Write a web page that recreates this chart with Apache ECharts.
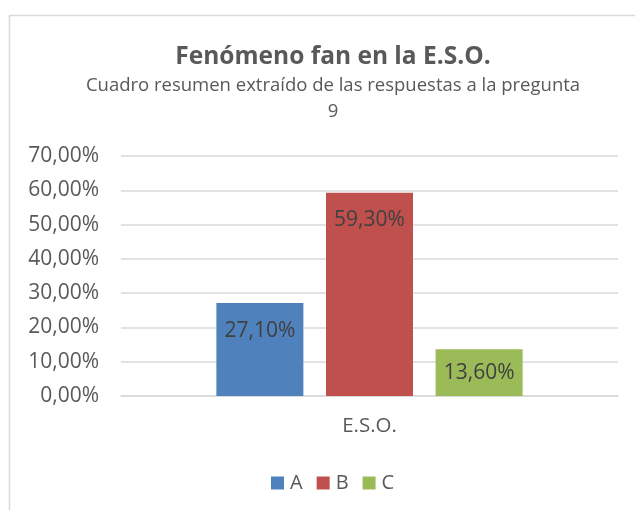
<html lang="es">
<head>
  <meta charset="UTF-8">
  <title>Fenómeno fan en la E.S.O.</title>
  <script src="https://cdn.jsdelivr.net/npm/echarts@6/dist/echarts.min.js"></script>
  <style>
    body { margin: 0; padding: 0; background: #fff; }
    #chart { width: 635px; height: 510px; }
  </style>
</head>
<body>
  <div id="chart"></div>
  <script>
    const categories = ['E.S.O.'];
    const seriesNames = ['A', 'B', 'C'];
    const seriesValues = [[27.1], [59.3], [13.6]];
    const seriesColors = ['#4f81bd', '#c0504d', '#9bbb59'];

    // Spanish style percent: 27,10%
    function pct(v) {
      return v.toFixed(2).replace('.', ',') + '%';
    }

    let myChart = echarts.init(document.getElementById('chart'));

    let option = {
      textStyle: { fontFamily: "'Open Sans', sans-serif" },
      graphic: [
        {
          type: 'rect',
          shape: { x: 9.5, y: 15.5, width: 700, height: 600 },
          style: { fill: 'none', stroke: '#d9d9d9', lineWidth: 1.5 },
          silent: true
        }
      ],
      title: {
        text: 'Fenómeno fan en la E.S.O.',
        subtext: 'Cuadro resumen extraído de las respuestas a la pregunta\n9',
        left: 328,
        textAlign: 'center',
        top: 40,
        itemGap: 3,
        textStyle: {
          fontSize: 24.5,
          fontWeight: 'bold',
          color: '#595959'
        },
        subtextStyle: {
          fontSize: 18.5,
          lineHeight: 26,
          color: '#595959'
        }
      },
      legend: {
        bottom: 12,
        left: 266,
        icon: 'rect',
        itemWidth: 13,
        itemHeight: 13,
        itemGap: 14,
        textStyle: { fontSize: 20, color: '#595959', padding: [0, 0, 0, 1] },
        data: seriesNames
      },
      grid: {
        left: 121,
        right: 17,
        top: 156,
        bottom: 114
      },
      xAxis: {
        type: 'category',
        data: categories,
        axisLine: { lineStyle: { color: '#d9d9d9', width: 1.5 } },
        axisTick: { show: false },
        axisLabel: { fontSize: 20.5, color: '#595959', margin: 20 }
      },
      yAxis: {
        type: 'value',
        min: 0,
        max: 70,
        interval: 10,
        axisLine: { show: false },
        axisTick: { show: false },
        splitLine: { lineStyle: { color: '#d9d9d9', width: 1.5 } },
        axisLabel: {
          fontSize: 21,
          color: '#595959',
          margin: 22,
          formatter: pct
        }
      },
      series: seriesNames.map(function (name, i) {
        return {
          name: name,
          type: 'bar',
          data: seriesValues[i],
          barWidth: 87,
          barGap: '26%',
          itemStyle: { color: seriesColors[i] },
          label: {
            show: true,
            // short bar: label sits in the middle, like in the original
            position: i === 2 ? 'inside' : 'insideTop',
            distance: 17,
            fontSize: 21,
            color: '#404040',
            formatter: function (p) { return pct(p.value); }
          }
        };
      })
    };

    myChart.setOption(option);
  </script>
</body>
</html>
